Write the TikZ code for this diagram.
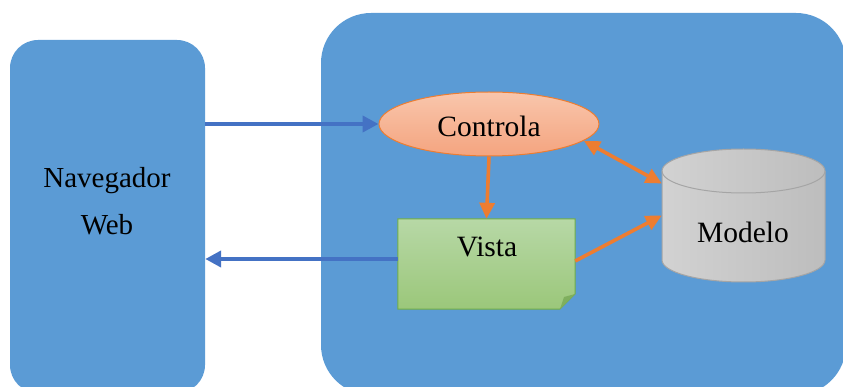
\documentclass[tikz,border=0pt]{standalone}
\usepackage{fontspec}
\setmainfont{Liberation Serif}
\usetikzlibrary{arrows.meta,shapes.geometric,calc}
\definecolor{panel}{HTML}{5B9BD5}
\definecolor{link}{HTML}{4472C4}
\definecolor{accent}{HTML}{ED7D31}
\definecolor{ctrltop}{HTML}{F9C6AC}
\definecolor{ctrlbot}{HTML}{F4A47F}
\definecolor{vistatop}{HTML}{B7D8A6}
\definecolor{vistabot}{HTML}{9BC77A}
\definecolor{vistaedge}{HTML}{70AD47}
\definecolor{vistafold}{HTML}{7FAF5E}
\definecolor{cylleft}{HTML}{D2D2D2}
\definecolor{cylright}{HTML}{BDBDBD}
\definecolor{cyledge}{HTML}{A5A5A5}
\tikzset{
  bluearrow/.style={link, line width=4pt, -{Triangle[length=16pt,width=16pt]}},
  orangearrow/.style={accent, line width=3.6pt, -{Triangle[length=16pt,width=15pt]}},
  orangedouble/.style={accent, line width=3.6pt, {Triangle[length=16pt,width=15pt]}-{Triangle[length=16pt,width=15pt]}},
  plainbox/.style={rectangle, inner sep=0pt}
}
\begin{document}
\begin{tikzpicture}[x=1pt,y=-1pt]
\useasboundingbox (0,0) rectangle (843,387);

% background panels (they run past the lower edge)
\begin{scope}
  \clip (0,0) rectangle (843,387);
  \node[plainbox, fill=panel, rounded corners=28pt,
        minimum width=195pt, minimum height=353pt] (nav) at (107.5,216.5) {};
  \node[plainbox, fill=panel, rounded corners=50pt,
        minimum width=525pt, minimum height=382pt] (server) at (583.5,204) {};
\end{scope}

\tikzset{every node/.append style={font=\fontsize{29.5}{35}\selectfont}}

\node[align=center, font=\fontsize{29}{47}\selectfont] (navtxt) at (107,201) {Navegador\\Web};

% Controla
\node[ellipse, draw=accent, line width=1pt, top color=ctrltop, bottom color=ctrlbot,
      minimum width=220pt, minimum height=64pt, inner sep=0pt] (ctrl) at (489,124) {};
\node (ctrltxt) at (489,126) {Controla};

% Vista: sheet with a folded corner
\node[plainbox, minimum width=177pt, minimum height=90pt] (vista) at (486.5,264) {};
\shade[top color=vistatop, bottom color=vistabot]
  (vista.north west) -- (vista.north east) -- (575,294) -- (560,309) -- (vista.south west) -- cycle;
\draw[vistaedge, line width=1pt]
  (vista.north west) -- (vista.north east) -- (575,294) -- (560,309) -- (vista.south west) -- cycle;
\fill[vistafold] (560,309) -- (575,294) -- (564,297) -- cycle;
\node (vistatxt) at (487,247) {Vista};

% Modelo: cylinder
\node[plainbox, minimum width=163pt, minimum height=133pt] (modelo) at (743.5,215.5) {};
\shade[left color=cylleft, right color=cylright]
  (662,171) -- (662,260) arc[start angle=180, end angle=0, x radius=81.5, y radius=22]
  -- (825,171) arc[start angle=0, end angle=-180, x radius=81.5, y radius=22] -- cycle;
\draw[cyledge, line width=1pt]
  (662,171) -- (662,260) arc[start angle=180, end angle=0, x radius=81.5, y radius=22]
  -- (825,171) arc[start angle=0, end angle=-180, x radius=81.5, y radius=22];
\draw[cyledge, line width=1pt]
  (662,171) arc[start angle=180, end angle=0, x radius=81.5, y radius=22];
\node (modelotxt) at (743,232) {Modelo};

% connectors
\draw[bluearrow] (nav.east |- ctrl.west) -- (ctrl.west);
\draw[bluearrow] ($(vista.west)+(0,-5)$) -- (nav.east |- {$(vista.west)+(0,-5)$});
\draw[orangearrow] (ctrl.south) -- (vista.north);
\draw[orangedouble] (ctrl.-10) -- ($(modelo.west)+(0,-32)$);
\draw[orangearrow] ($(vista.east)+(0,-3)$) -- (modelo.west);
\end{tikzpicture}
\end{document}
